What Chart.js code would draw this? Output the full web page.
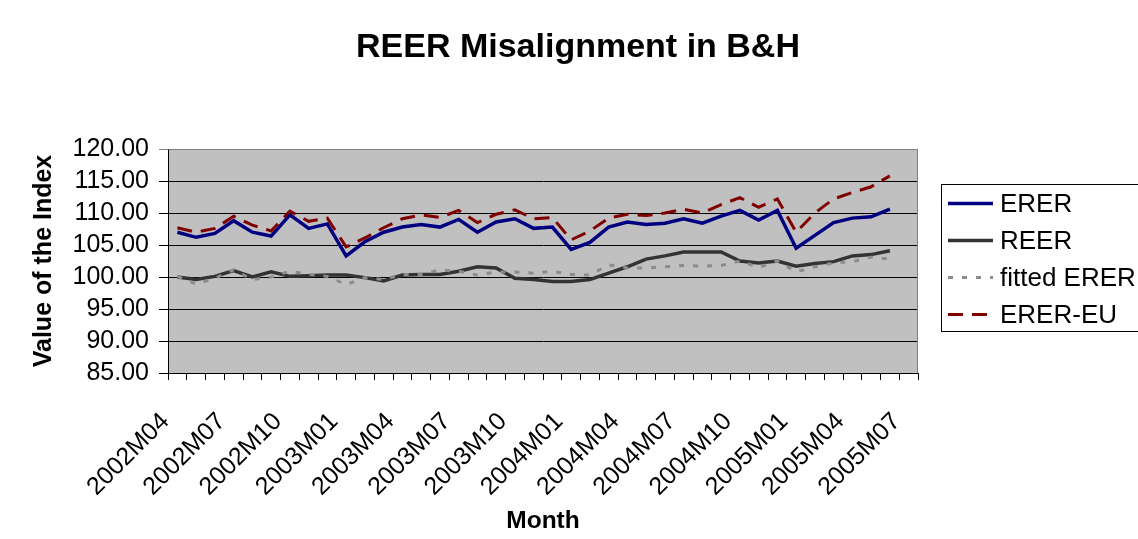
<!DOCTYPE html>
<html><head><meta charset="utf-8">
<script src="https://cdn.jsdelivr.net/npm/chart.js@4/dist/chart.umd.min.js"></script>
<style>html,body{margin:0;padding:0;background:#fff;overflow:hidden;}</style>
</head><body>
<canvas id="c" width="1138" height="539" style="display:block;width:1138px;height:539px"></canvas>
<script>
const months = ['2002M04','2002M05','2002M06','2002M07','2002M08','2002M09','2002M10','2002M11','2002M12',
  '2003M01','2003M02','2003M03','2003M04','2003M05','2003M06','2003M07','2003M08','2003M09','2003M10','2003M11','2003M12',
  '2004M01','2004M02','2004M03','2004M04','2004M05','2004M06','2004M07','2004M08','2004M09','2004M10','2004M11','2004M12',
  '2005M01','2005M02','2005M03','2005M04','2005M05','2005M06','2005M07'];
const shownTicks = ['2002M04','2002M07','2002M10','2003M01','2003M04','2003M07','2003M10',
  '2004M01','2004M04','2004M07','2004M10','2005M01','2005M04','2005M07'];
const yTicks = [85, 90, 95, 100, 105, 110, 115, 120];

const erer = [107.0,106.2,106.8,108.8,107.0,106.4,109.7,107.6,108.3,103.3,105.5,107.0,107.8,108.2,107.8,109.0,107.0,108.6,109.1,107.6,
  107.8,104.3,105.4,107.8,108.6,108.2,108.4,109.1,108.4,109.5,110.4,108.9,110.4,104.5,106.5,108.5,109.2,109.4,110.6,null];
const reer = [100.0,99.6,100.1,101.0,100.0,100.8,100.1,100.2,100.3,100.3,99.9,99.4,100.3,100.4,100.4,100.9,101.6,101.4,99.8,99.6,
  99.3,99.3,99.6,100.6,101.6,102.8,103.3,103.9,103.9,103.9,102.5,102.2,102.5,101.7,102.1,102.4,103.3,103.5,104.1,null];
const fittedErer = [100.1,98.9,99.8,101.1,99.6,100.0,100.9,100.4,100.1,98.8,99.9,99.6,100.4,100.4,101.1,100.9,100.3,100.8,100.8,100.6,
  100.9,100.4,100.3,101.9,101.4,101.4,101.6,101.8,101.7,101.8,102.5,101.5,102.5,100.8,101.6,102.2,102.4,103.1,102.8,null];
const ererEu = [107.7,107.0,107.6,109.5,108.1,107.2,110.3,108.7,109.2,104.7,106.1,107.7,109.1,109.7,109.3,110.4,108.5,109.8,110.5,109.1,
  109.3,105.8,107.2,109.2,109.8,109.6,110.0,110.6,110.0,111.3,112.4,110.9,112.2,107.0,110.0,112.2,113.2,114.1,115.8,null];

const FONT = '"Liberation Sans", Arial, sans-serif';

const series = [
  {label:'ERER', data:erer, borderColor:'#000080', borderWidth:3.5, borderDash:[], order:3},
  {label:'REER', data:reer, borderColor:'#333333', borderWidth:3.5, borderDash:[], order:2},
  {label:'fitted ERER', data:fittedErer, borderColor:'#8c8c8c', borderWidth:3, borderDash:[5,9], order:1},
  {label:'ERER-EU', data:ererEu, borderColor:'#800000', borderWidth:3, borderDash:[15,9], order:0}
];

const decor = {
  id:'decor',
  beforeDraw(chart){
    const {ctx, chartArea:a} = chart;
    ctx.save();
    ctx.fillStyle = '#fff';
    ctx.fillRect(0,0,chart.width,chart.height);
    ctx.fillStyle = '#c0c0c0';
    ctx.fillRect(a.left, a.top, a.right-a.left, a.bottom-a.top);
    ctx.restore();
  },
  beforeDatasetsDraw(chart){
    const {ctx, chartArea:a} = chart;
    ctx.save();
    ctx.strokeStyle = '#808080';
    ctx.lineWidth = 1;
    ctx.beginPath();
    ctx.moveTo(a.left+0.5, a.top+0.5);
    ctx.lineTo(a.right-0.5, a.top+0.5);
    ctx.lineTo(a.right-0.5, a.bottom);
    ctx.stroke();
    ctx.restore();
  },
  afterDraw(chart){
    const ctx = chart.ctx;
    ctx.save();
    // title
    ctx.fillStyle = '#000';
    ctx.font = 'bold 34px ' + FONT;
    ctx.textAlign = 'center';
    ctx.textBaseline = 'middle';
    ctx.fillText('REER Misalignment in B&H', 578, 48);
    // legend
    ctx.fillStyle = '#fff';
    ctx.fillRect(941, 184, 200, 148);
    ctx.strokeStyle = '#000';
    ctx.lineWidth = 1;
    ctx.strokeRect(941.5, 184.5, 210, 147);
    const rows = [203.5, 240.5, 277.5, 314.5];
    ctx.font = '26px ' + FONT;
    ctx.textAlign = 'left';
    chart.data.datasets.forEach((ds, i) => {
      const y = rows[i];
      ctx.save();
      ctx.strokeStyle = ds.borderColor;
      ctx.lineWidth = ds.borderWidth;
      ctx.setLineDash(ds.borderDash || []);
      ctx.beginPath();
      ctx.moveTo(948, y);
      ctx.lineTo(993, y);
      ctx.stroke();
      ctx.restore();
      ctx.fillStyle = '#000';
      ctx.fillText(ds.label, 1000, y + 1);
    });
    ctx.restore();
  }
};

new Chart(document.getElementById('c'), {
  type:'line',
  data:{
    labels: months,
    datasets: series.map(s => ({
      label:s.label, data:s.data, borderColor:s.borderColor, backgroundColor:s.borderColor,
      borderWidth:s.borderWidth, borderDash:s.borderDash, order:s.order,
      pointRadius:0, pointHoverRadius:0, tension:0, fill:false, spanGaps:false
    }))
  },
  options:{
    responsive:false,
    animation:false,
    devicePixelRatio:1,
    layout:{padding:{left:20, right:220, top:149, bottom:0}},
    plugins:{legend:{display:false}, title:{display:false}, tooltip:{enabled:false}},
    scales:{
      x:{
        type:'category',
        offset:true,
        grid:{display:true, offset:true, drawOnChartArea:false, drawTicks:true, tickLength:7, color:'#000', lineWidth:1},
        border:{display:true, color:'#000', width:1},
        ticks:{
          autoSkip:false, maxRotation:45, minRotation:45, padding:27, labelOffset:-12,
          color:'#000', font:{family:FONT, size:25},
          callback(v, i){ const m = months[i]; return shownTicks.includes(m) ? m : ''; }
        },
        title:{display:true, text:'Month', color:'#000', font:{family:FONT, size:24.5, weight:'bold'}, padding:{top:0, bottom:3}},
        afterFit(s){ s.height = 166; }
      },
      y:{
        min:85, max:120,
        afterBuildTicks(s){ s.ticks = yTicks.map(v => ({value:v})); },
        grid:{drawTicks:true, tickLength:9, lineWidth:1,
          color(ctx){ return ctx.tick && ctx.tick.value === 120 ? '#808080' : '#000'; }},
        border:{display:true, color:'#000', width:1},
        ticks:{autoSkip:false, padding:10, color:'#000', font:{family:FONT, size:25}, callback(v){ return Number(v).toFixed(2); }},
        title:{display:true, text:'Value of the Index', color:'#000', font:{family:FONT, size:25, weight:'bold'}, padding:{top:9, bottom:0}},
        afterFit(s){ s.width = 148; }
      }
    }
  },
  plugins:[decor]
});
</script>
</body></html>
